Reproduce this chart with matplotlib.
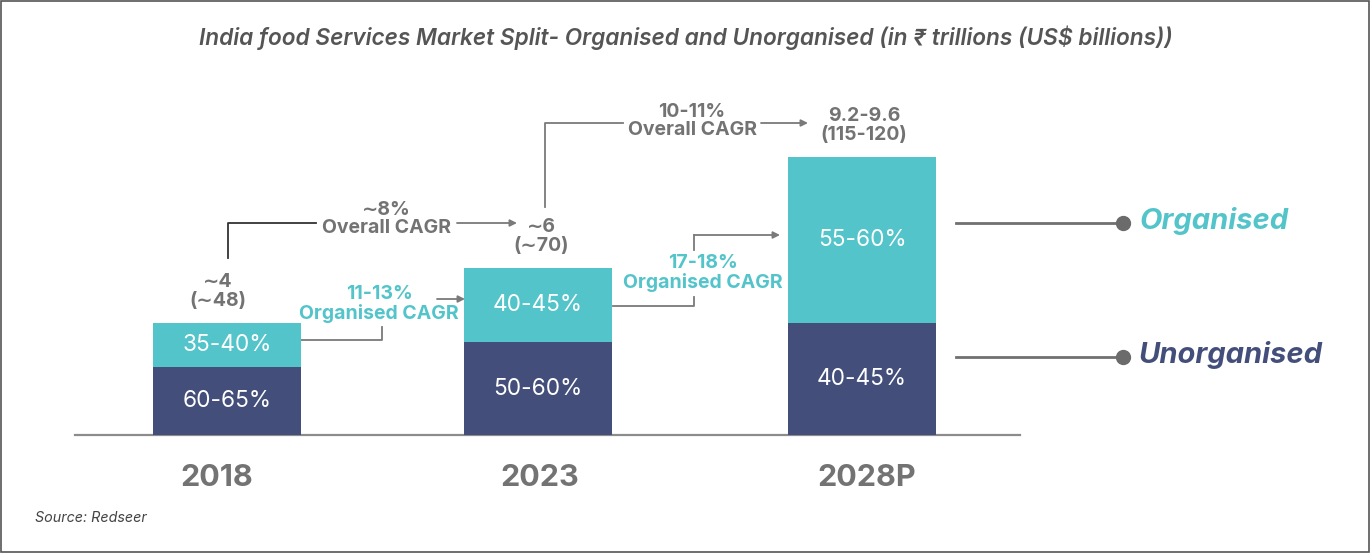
import numpy as np
import matplotlib
matplotlib.use("Agg")
import matplotlib.pyplot as plt
from matplotlib.patches import Rectangle

plt.rcParams['font.family'] = ['Inter', 'DejaVu Sans']

# data (bar heights in arbitrary units, ~ value)
years = ["2018", "2023", "2028P"]
unorganised = [2.43, 3.32, 4.0]
organised = [1.57, 2.64, 5.93]
unorg_labels = ["60-65%", "50-60%", "40-45%"]
org_labels = ["35-40%", "40-45%", "55-60%"]
total_labels = ["\u223c4\n(\u223c48)", "\u223c6\n(\u223c70)", "9.2-9.6\n(115-120)"]
overall_cagr = ["\u223c8%\nOverall CAGR", "10-11%\nOverall CAGR"]
org_cagr = ["11-13%\nOrganised CAGR", "17-18%\nOrganised CAGR"]

TEAL = "#53c4ca"
NAVY = "#434f7a"
GREY = "#737373"
LINE = "#7a7a7a"

W, H = 1372, 553
BASE = 435.0   # baseline, pixels from top
SCALE = 28.0   # pixels per unit


def py(p):
    # pixel row (from top) -> data y
    return (BASE - p) / SCALE


fig = plt.figure(figsize=(W / 100, H / 100), dpi=100)
ax = fig.add_axes([0, 0, 1, 1])
ax.set_xlim(0, W)
ax.set_ylim(py(H), py(0))
ax.axis("off")

xpos = [227, 538, 862]
bw = 148

ax.bar(xpos, unorganised, width=bw, color=NAVY, zorder=2)
ax.bar(xpos, organised, width=bw, bottom=unorganised, color=TEAL, zorder=2)

tops = np.array(unorganised) + np.array(organised)
for i in range(3):
    ax.text(xpos[i], unorganised[i] / 2, unorg_labels[i], color="white",
            fontsize=16.3, ha="center", va="center", zorder=3)
    ax.text(xpos[i], unorganised[i] + organised[i] / 2, org_labels[i], color="white",
            fontsize=16.3, ha="center", va="center", zorder=3)
    ax.text(xpos[i] - [9, -3, -2][i], tops[i] + 13 / SCALE, total_labels[i], color=GREY,
            fontsize=14, fontweight="bold", ha="center", va="bottom", linespacing=1.05)
    ax.text(xpos[i] + [-10, 2, 5][i], py(478), years[i], color=GREY, fontsize=22,
            fontweight="bold", ha="center", va="center")

# baseline
ax.plot([75, 1020], [0, 0], color="#8c8c8c", lw=1.6, zorder=1)

# title and source
fig.text(0.5, 1 - 38 / H, "India food Services Market Split- Organised and Unorganised (in \u20b9 trillions (US$ billions))",
         ha="center", va="center", fontsize=16.3, style="italic", fontweight="semibold", color="#555555")
fig.text(35 / W, 1 - 518 / H, "Source: Redseer", ha="left", va="center", fontsize=10.3,
         style="italic", color="#444444")


def seg(xs, ys, color=LINE):
    ax.plot(xs, [py(v) for v in ys], color=color, lw=1.3, zorder=1)


def arrow(x0, x1, y, color=LINE):
    ax.annotate("", xy=(x1, py(y)), xytext=(x0, py(y)),
                arrowprops=dict(arrowstyle="-|>", color=color, lw=1.3,
                                mutation_scale=10, shrinkA=0, shrinkB=0))


# overall CAGR 2018 -> 2023
seg([228, 228, 316], [258, 223, 223], color="#333333")
arrow(457, 517, 223)
ax.text(386, py(219), overall_cagr[0], color=GREY, fontsize=14, fontweight="bold",
        ha="center", va="center", linespacing=1.05)

# overall CAGR 2023 -> 2028P
seg([545, 545, 623], [207, 123, 123])
arrow(761, 808, 123)
ax.text(692, py(121), overall_cagr[1], color=GREY, fontsize=14, fontweight="bold",
        ha="center", va="center", linespacing=1.05)

# organised CAGR 2018 -> 2023
seg([300, 382, 382], [340, 340, 327])
arrow(437, 465, 299)
ax.text(379, py(304), org_cagr[0], color=TEAL, fontsize=14, fontweight="bold",
        ha="center", va="center", linespacing=1.05)

# organised CAGR 2023 -> 2028P
seg([613, 694, 694], [306, 306, 297])
seg([694, 694], [250, 235])
arrow(694, 780, 235)
ax.text(703, py(273), org_cagr[1], color=TEAL, fontsize=14, fontweight="bold",
        ha="center", va="center", linespacing=1.05)

# legend callouts
for yy, name, col in [(223, "Organised", TEAL), (357, "Unorganised", NAVY)]:
    ax.plot([956, 1123], [py(yy), py(yy)], color="#707070", lw=2, zorder=1)
    ax.plot([1123], [py(yy)], "o", color="#6b6b6b", ms=10, zorder=2)
    ax.text(1139, py(yy - 2), name, color=col, fontsize=21, fontweight="bold",
            style="italic", ha="left", va="center")

# frame
fig.patches.append(Rectangle((0.001, 0.002), 0.997, 0.996, transform=fig.transFigure,
                             fill=False, edgecolor="#555555", lw=1.2))

fig.savefig("out.png", dpi=100)
